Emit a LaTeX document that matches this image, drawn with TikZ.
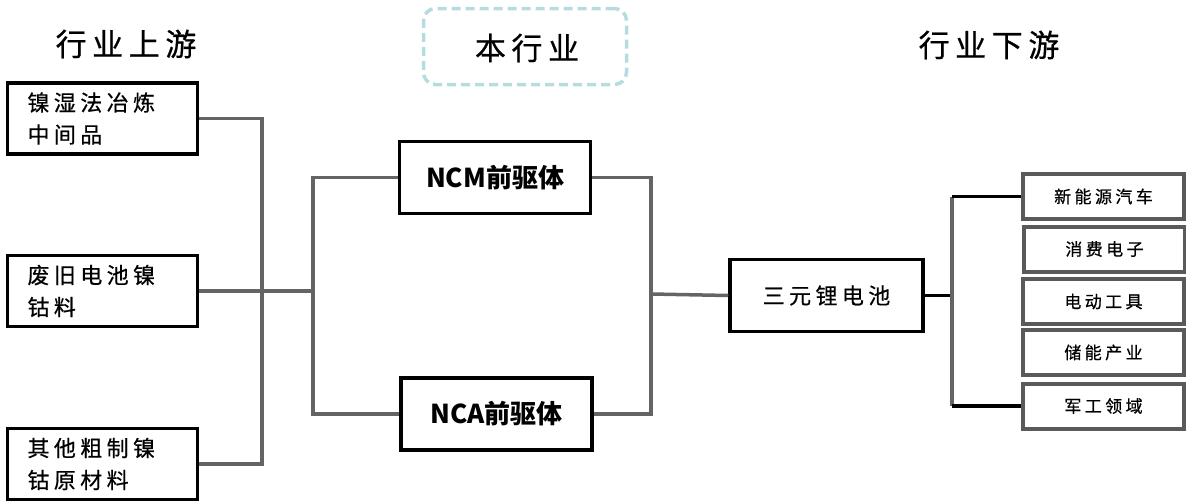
\documentclass[tikz,border=0pt]{standalone}
\usepackage{fontspec}
\setmainfont{Noto Sans CJK SC}
\newfontfamily\spaced[LetterSpace=20,FakeBold=0.6]{Noto Sans CJK SC}
\newfontfamily\spacedt[LetterSpace=18,FakeBold=0.6]{Noto Sans CJK SC}
\definecolor{linegray}{HTML}{646464}
\definecolor{boxgray}{HTML}{5A5A5A}
\definecolor{dashblue}{HTML}{B5DCE0}
\begin{document}
\begin{tikzpicture}[x=1pt,y=-1pt,
  ubox/.style={draw=black, line width=3.5pt, minimum height=71pt, text width=150pt, inner xsep=20pt, inner ysep=0pt, align=left, font=\fontsize{22}{32}\selectfont\spaced},
  midbox/.style={draw=black, line width=3.5pt, minimum width=191pt, minimum height=72pt, inner sep=0pt, font=\fontsize{26}{30}\selectfont\bfseries},
  tribox/.style={draw=black, line width=3.5pt, minimum width=193pt, minimum height=72pt, inner sep=0pt, font=\fontsize{22}{26}\selectfont\spaced},
  dbox/.style={draw=boxgray, line width=4pt, minimum width=161pt, minimum height=45pt, inner sep=0pt, font=\fontsize{17}{20}\selectfont\spaced},
  ttl/.style={font=\fontsize{31}{34}\selectfont\spacedt, inner sep=0pt},
  conn/.style={draw=linegray, line width=3.5pt},
  bconn/.style={draw=black, line width=3.5pt},
  dashbox/.style={draw=dashblue, line width=3.5pt, dash pattern=on 9pt off 5pt, rounded corners=12pt, minimum width=203pt, minimum height=76pt}
]
\useasboundingbox (0,0) rectangle (1186,501);

% titles
\node[ttl] (t1) at (126,44) {行业上游};
\node[dashbox] (t2box) at (525,46.5) {};
\node[ttl] (t2) at (527,48) {本行业};
\node[ttl] (t3) at (989,45) {行业下游};

% upstream boxes
\node[ubox] (u1) at (102.5,118.5) {镍湿法冶炼\\中间品};
\node[ubox] (u2) at (102.5,291) {废旧电池镍\\钴料};
\node[ubox] (u3) at (102.5,464) {其他粗制镍\\钴原材料};

% precursors
\node[midbox] (ncm) at (495,177.5) {NCM前驱体};
\node[midbox] (nca) at (496.5,414) {NCA前驱体};

% ternary battery
\node[tribox] (tri) at (826.5,295.5) {三元锂电池};

% downstream boxes
\node[dbox] (d1) at (1103.5,196.5) {新能源汽车};
\node[dbox] (d2) at (1104.5,249) {消费电子};
\node[dbox] (d3) at (1103.5,301.5) {电动工具};
\node[dbox] (d4) at (1103.5,352.5) {储能产业};
\node[dbox] (d5) at (1103.5,406) {军工领域};

% junctions
\coordinate (j1) at (262,291);
\coordinate (j2) at (313,291);
\coordinate (j3) at (651,294);
\coordinate (j4) at (952,295.5);

% connectors
\draw[conn] (u1.east) -| (j1) |- (u3.east);
\draw[conn] (u2.east) -- (j1) -- (j2);
\draw[conn] (ncm.west) -| (j2) |- (nca.west);
\draw[conn] (ncm.east) -| (j3) |- (nca.east);
\draw[conn] (j3) -- (tri.west);
\draw[bconn] (tri.east) -- (j4);
\draw[conn] (j4 |- d1.west) -- (j4 |- d5.west);
\draw[bconn] (j4 |- d1.west) -- (d1.west);
\draw[bconn] (j4 |- d5.west) -- (d5.west);
\end{tikzpicture}
\end{document}
